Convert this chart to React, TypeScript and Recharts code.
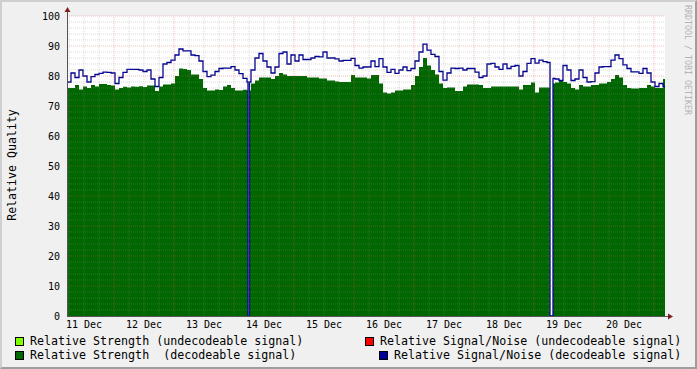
import React from "react";
import { ComposedChart, Area, Line, XAxis, YAxis, ReferenceLine, ReferenceArea } from "recharts";

// ---- data (hours since 11 Dec 00:00, regular RRD samples) ----
const START_H = 5.2;
const STEP_H = 1.6;
const END_H = 244.4;

const strength = [
  76, 76, 77, 75.5, 76.5, 76, 77, 76.5, 77.3, 77.3,
  77, 76.8, 75.5, 76, 76.4, 76.2, 76.5, 76.4, 76.6, 76.3,
  76.8, 76.8, 75, 76.5, 77.2, 77.2, 77.5, 80, 82.5, 82.3,
  82, 80.5, 80.5, 79, 76, 75.2, 75.2, 75.5, 75.3, 76.5,
  77, 76, 75.2, 75.2, 75.4, 75.2, 77.5, 78.5, 79.5, 79.5,
  79.5, 79, 80, 81, 80.5, 80, 80, 80, 80, 80,
  79.5, 79.5, 79.5, 79.2, 79.2, 78.5, 78.5, 78.2, 78, 78,
  78, 80.3, 79.5, 79.5, 79.5, 79.2, 80.3, 80.3, 77.5, 74.5,
  74.2, 74.5, 75.2, 75.2, 75.5, 75.5, 77, 80, 83, 86,
  83.5, 82, 80.5, 77.5, 76, 76.2, 76.2, 75, 75, 76.5,
  77.2, 77.2, 77.2, 77, 76, 76, 76.5, 76.5, 76.5, 76.5,
  76.5, 76.5, 76.5, 75.5, 77, 77, 77.8, 74.5, 76.2, 76.2,
  76.2, 77.5, 77.8, 78.7, 78, 77.5, 76, 75.5, 77, 76.5,
  76.5, 77, 77, 77.5, 77.5, 78, 79, 80.3, 79.5, 77,
  76, 75.8, 75.8, 76, 76, 77, 76.5, 76, 76, 79,
];

const snr = [
  78, 81, 79.5, 82, 80, 78, 79.8, 80.5, 80.9, 81.3,
  81.2, 81, 77.5, 79.5, 81.2, 82.2, 82.2, 82.2, 82, 81.5,
  82, 79, 76.5, 79.5, 84, 84.5, 85.3, 87, 89, 88.4,
  88.4, 87, 86.8, 85, 81.5, 79.8, 80.3, 81.5, 82.5, 82.6,
  82.6, 83.1, 82, 80.8, 79.2, 78, 82, 86, 87.5, 85,
  83, 81, 83, 87.5, 88, 84, 87, 85, 87, 85.5,
  85.5, 86, 86.5, 86.4, 88, 86, 86, 85.7, 85, 85.2,
  85.2, 85.9, 83.5, 82.6, 83, 83, 85, 83.1, 85.8, 83,
  81.2, 82.2, 80.9, 82, 83, 81.8, 82.5, 85, 88, 90.6,
  88.6, 87.2, 86.5, 81.5, 78.6, 81, 82.6, 82.5, 82.6, 82,
  82.5, 82.5, 81.3, 79.5, 80, 84, 84.2, 83, 82.2, 84,
  82.5, 83.2, 83.5, 80, 81.5, 84.2, 85.8, 84.3, 85.3, 84.8,
  84.5, 79.2, 79, 78.5, 83.5, 82, 78.5, 79, 82, 79.5,
  78, 78.1, 81, 83, 83.1, 83.1, 85.3, 87, 85.8, 83.7,
  82.5, 81.4, 81.4, 80.9, 82.5, 81, 78, 76.5, 77.5, 76.5,
];

// outages (hours) where both values drop to 0
const outages: [number, number][] = [
  [77.6, 78.2],
  [198.4, 199.6],
];

const dayLabelTicks = [12, 36, 60, 84, 108, 132, 156, 180, 204, 228];
const yTicks = [0, 10, 20, 30, 40, 50, 60, 70, 80, 90, 100];
const majorX = [24, 48, 72, 96, 120, 144, 168, 192, 216, 240];
const minorX = Array.from({ length: 40 }, (_, i) => 6 + i * 6).filter((v) => v % 24 !== 0);
const majorY = [10, 20, 30, 40, 50, 60, 70, 80, 90, 100];
const minorY = Array.from({ length: 49 }, (_, i) => 2 + i * 2).filter((v) => v % 10 !== 0);

type P = { t: number; strength: number; snr: number };
const samples: P[] = strength.map((s, i) => ({ t: START_H + i * STEP_H, strength: s, snr: snr[i] }));
const valueAt = (t: number): P => {
  let last = samples[0];
  for (const p of samples) if (p.t <= t + 1e-9) last = p;
  return last;
};
const buildData = (): P[] => {
  const pts: P[] = samples.filter((p) => !outages.some(([a, b]) => p.t >= a && p.t < b));
  for (const [a, b] of outages) {
    const after = valueAt(b);
    pts.push({ t: a, strength: 0, snr: 0 });
    pts.push({ t: b, strength: after.strength, snr: after.snr });
  }
  const last = valueAt(END_H);
  pts.push({ t: END_H, strength: last.strength, snr: last.snr });
  pts.sort((x, y) => x.t - y.t);
  return pts;
};
const data = buildData();

const FONT = "'DejaVu Sans Mono', monospace";
const GRID = "rgba(143,143,143,0.32)";
const MGRID = "rgba(222,80,80,0.38)";

const legendItems = [
  { color: "#80ff00", text: "Relative Strength (undecodeable signal)", left: 15, top: 337, textLeft: 30 },
  { color: "#ff0000", text: "Relative Signal/Noise (undecodeable signal)", left: 365, top: 337, textLeft: 380 },
  { color: "#006600", text: "Relative Strength  (decodeable signal)", left: 15, top: 351, textLeft: 30 },
  { color: "#000099", text: "Relative Signal/Noise (decodeable signal)", left: 379, top: 351, textLeft: 394 },
];

export default function App() {
  return (
    <div
      style={{
        position: "absolute",
        left: 0,
        top: 0,
        width: 697,
        height: 369,
        background: "#f0f0f0",
        overflow: "hidden",
      }}
    >
      <ComposedChart
        width={697}
        height={369}
        data={data}
        margin={{ top: 16, right: 32, bottom: 23, left: 7 }}
      >
        <XAxis
          dataKey="t"
          type="number"
          domain={[START_H, END_H]}
          allowDataOverflow
          ticks={dayLabelTicks}
          interval={0}
          tickFormatter={(v: number) => `${11 + Math.round((v - 12) / 24)} Dec`}
          height={30}
          axisLine={false}
          tickLine={false}
          tickSize={0}
          tickMargin={5}
          tick={{ fontFamily: FONT, fontSize: 10, fill: "#000" }}
        />
        <YAxis
          type="number"
          domain={[0, 100]}
          ticks={yTicks}
          interval={0}
          width={60}
          axisLine={false}
          tickLine={false}
          tickSize={0}
          tickMargin={7}
          tick={{ fontFamily: FONT, fontSize: 10, fill: "#000" }}
        />
        <ReferenceArea x1={START_H} x2={END_H} y1={0} y2={100} fill="#ffffff" fillOpacity={1} stroke="none" />
        <Area
          type="stepAfter"
          dataKey="strength"
          fill="#006600"
          fillOpacity={1}
          stroke="none"
          isAnimationActive={false}
        />
        <Line
          type="stepAfter"
          dataKey="snr"
          stroke="#000090"
          strokeWidth={1.3}
          dot={false}
          isAnimationActive={false}
        />
        {minorY.map((v) => (
          <ReferenceLine key={"my" + v} y={v} stroke={GRID} strokeDasharray="1 1" strokeWidth={1} />
        ))}
        {minorX.map((v) => (
          <ReferenceLine key={"mx" + v} x={v} stroke={GRID} strokeDasharray="1 1" strokeWidth={1} />
        ))}
        {majorY.map((v) => (
          <ReferenceLine key={"My" + v} y={v} stroke={MGRID} strokeDasharray="1 1" strokeWidth={1} />
        ))}
        {majorX.map((v) => (
          <ReferenceLine key={"Mx" + v} x={v} stroke={MGRID} strokeDasharray="1 1" strokeWidth={1} />
        ))}
      </ComposedChart>

      <svg
        width={697}
        height={369}
        style={{ position: "absolute", left: 0, top: 0, pointerEvents: "none" }}
      >
        {/* axes */}
        <line x1={67.5} y1={316} x2={67.5} y2={11} stroke="#555" strokeWidth={1} />
        <line x1={67} y1={316.5} x2={669} y2={316.5} stroke="#555" strokeWidth={1} />
        <polygon points="64.5,12 70.5,12 67.5,7" fill="#801f1f" />
        <polygon points="668,313.5 668,319.5 673,316.5" fill="#801f1f" />
        {/* axis title */}
        <text
          x={0}
          y={0}
          transform="translate(15.5,165) rotate(-90)"
          textAnchor="middle"
          fontFamily={FONT}
          fontSize={11.6}
          fill="#000"
        >
          Relative Quality
        </text>
        {/* watermark */}
        <text
          x={0}
          y={0}
          transform="translate(684.5,60) rotate(90)"
          textAnchor="middle"
          fontFamily={FONT}
          fontSize={8.3}
          fill="#b4b4b4"
        >
          RRDTOOL / TOBI OETIKER
        </text>
      </svg>

      {legendItems.map((it) => (
        <React.Fragment key={it.text}>
          <div
            style={{
              position: "absolute",
              left: it.left,
              top: it.top,
              width: 9,
              height: 9,
              background: it.color,
              border: "1px solid #000",
              boxSizing: "border-box",
            }}
          />
          <div
            style={{
              position: "absolute",
              left: it.textLeft,
              top: it.top - 4,
              fontFamily: FONT,
              fontSize: 11.65,
              lineHeight: "17px",
              whiteSpace: "pre",
              color: "#000",
            }}
          >
            {it.text}
          </div>
        </React.Fragment>
      ))}

      {/* 3D frame */}
      <div
        style={{
          position: "absolute",
          left: 0,
          top: 0,
          width: 697,
          height: 369,
          boxSizing: "border-box",
          borderTop: "2px solid #cfcfcf",
          borderLeft: "2px solid #cfcfcf",
          borderRight: "2px solid #9e9e9e",
          borderBottom: "2px solid #9e9e9e",
          pointerEvents: "none",
        }}
      />
    </div>
  );
}
